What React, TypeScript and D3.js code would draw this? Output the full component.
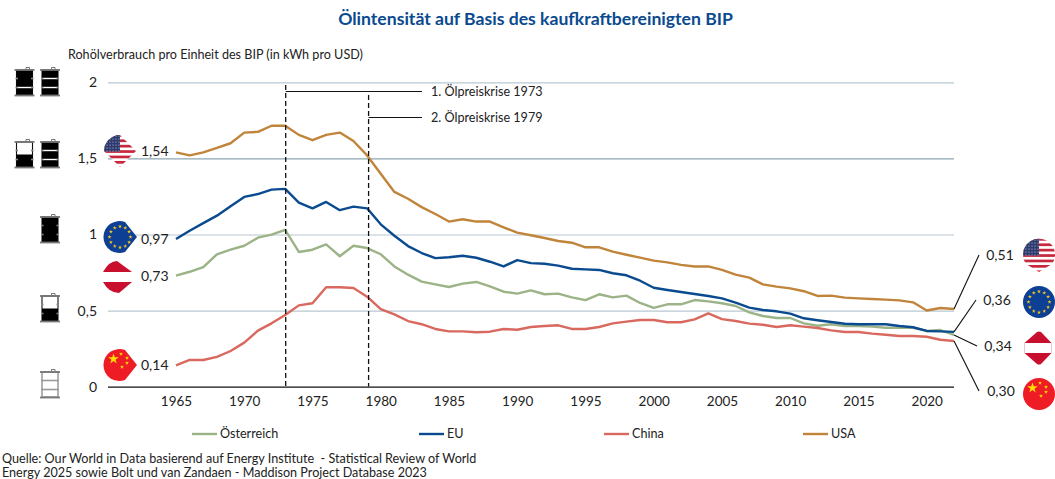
import * as d3 from "d3";
import React, { useEffect, useRef } from "react";

const startYear = 1965;
const usa = [1.54,1.52,1.54,1.57,1.6,1.67,1.675,1.715,1.715,1.655,1.62,1.655,1.67,1.615,1.52,1.4,1.28,1.235,1.18,1.135,1.085,1.1,1.085,1.085,1.047,1.012,0.995,0.977,0.957,0.946,0.916,0.916,0.887,0.867,0.848,0.828,0.817,0.8,0.79,0.79,0.767,0.736,0.716,0.672,0.657,0.646,0.627,0.596,0.598,0.585,0.58,0.576,0.572,0.567,0.554,0.5,0.517,0.51];
const eu = [0.97,1.025,1.075,1.124,1.185,1.247,1.266,1.295,1.3,1.21,1.172,1.214,1.16,1.183,1.172,1.067,0.992,0.924,0.878,0.845,0.85,0.86,0.847,0.821,0.79,0.832,0.812,0.808,0.795,0.775,0.771,0.767,0.745,0.732,0.696,0.65,0.635,0.622,0.609,0.596,0.58,0.552,0.519,0.504,0.495,0.48,0.449,0.436,0.425,0.413,0.41,0.41,0.41,0.398,0.39,0.366,0.363,0.36];
const austria = [0.73,0.755,0.786,0.87,0.9,0.926,0.979,0.999,1.03,0.885,0.9,0.935,0.857,0.926,0.911,0.87,0.79,0.736,0.69,0.672,0.655,0.677,0.688,0.659,0.624,0.611,0.633,0.607,0.611,0.587,0.569,0.607,0.587,0.598,0.55,0.517,0.541,0.541,0.569,0.56,0.548,0.53,0.488,0.464,0.451,0.451,0.416,0.4,0.41,0.398,0.398,0.394,0.387,0.387,0.387,0.366,0.372,0.34];
const china = [0.14,0.175,0.175,0.195,0.234,0.289,0.368,0.416,0.471,0.534,0.548,0.653,0.653,0.648,0.591,0.51,0.475,0.431,0.41,0.379,0.363,0.363,0.357,0.361,0.379,0.374,0.392,0.398,0.403,0.379,0.379,0.392,0.416,0.427,0.438,0.438,0.423,0.423,0.442,0.482,0.444,0.431,0.414,0.407,0.392,0.403,0.394,0.385,0.37,0.359,0.359,0.348,0.341,0.333,0.333,0.328,0.308,0.3];

const years = usa.map((_, i) => startYear + i);
const xTicks = [1965,1970,1975,1980,1985,1990,1995,2000,2005,2010,2015,2020];
const yTicks = [0,0.5,1,1.5,2];
const crises = [1973, 1979];
const crisisLabels = ["1. Ölpreiskrise 1973", "2. Ölpreiskrise 1979"];
const legendNames = ["Österreich", "EU", "China", "USA"];
const seriesColors = ["#9bb386", "#0a4a8f", "#d9685f", "#c0843a"];
const seriesData = [austria, eu, china, usa];
const sourceLines = [
  "Quelle: Our World in Data basierend auf Energy Institute  - Statistical Review of World",
  "Energy 2025 sowie Bolt und van Zandaen - Maddison Project Database 2023",
];

const fmt = (v: number) => v.toFixed(2).replace(".", ",");
const FONT = "Lato, sans-serif";

const CIRCLE = "M-16,0A16,16 0 1 1 16,0A16,16 0 1 1 -16,0Z";
const TEAR_RIGHT = "M17,0L5,15A16,16 0 1 1 5,-15Z";
const TEAR_DOWN = "M0,17L-13,9A16,16 0 1 1 13,9Z";
const DIAMOND = "M16,0L0,16L-16,0A16,16 0 0 1 0,-16Z";
const CUT_LEFT = "M-15,-5Q-9,-16 -1,-16L14,-5L14,5L1,16Q-9,16 -15,5Z";
const CUT_RIGHT = "M-13.5,-5L-1,-16Q1,-17 3,-16L13.5,-5L13.5,5L3,16Q1,17 -1,16L-13.5,5Z";

let clipId = 0;

function flag(svg: any, kind: string, shape: string, cx: number, cy: number) {
  const id = "flag" + clipId++;
  svg.append("clipPath").attr("id", id).append("path").attr("d", shape);
  const g = svg.append("g").attr("transform", `translate(${cx},${cy})`).append("g").attr("clip-path", `url(#${id})`);
  if (kind === "usa") {
    g.append("rect").attr("x", -18).attr("y", -18).attr("width", 36).attr("height", 36).attr("fill", "#fff");
    d3.range(7).forEach(i => {
      g.append("rect").attr("x", -18).attr("y", -17 + i * 5.4).attr("width", 36).attr("height", 2.7).attr("fill", "#c8283e");
    });
    g.append("rect").attr("x", -18).attr("y", -18).attr("width", 18).attr("height", 18.5).attr("fill", "#2c3a6e");
    d3.range(6).forEach(r => d3.range(6).forEach(c => {
      g.append("circle").attr("cx", -16 + c * 3).attr("cy", -15 + r * 3).attr("r", 0.6).attr("fill", "#cfd3e2");
    }));
  }
  if (kind === "eu") {
    g.append("rect").attr("x", -18).attr("y", -18).attr("width", 36).attr("height", 36).attr("fill", "#0d3f94");
    const star = d3.symbol().type(d3.symbolStar).size(5)();
    d3.range(12).forEach(i => {
      const a = (i / 12) * 2 * Math.PI;
      g.append("path").attr("d", star).attr("fill", "#f4c51c")
        .attr("transform", `translate(${10.5 * Math.sin(a)},${-10.5 * Math.cos(a)})`);
    });
  }
  if (kind === "at") {
    g.append("rect").attr("x", -18).attr("y", -18).attr("width", 36).attr("height", 36).attr("fill", "#c8102e");
    g.append("rect").attr("x", -18).attr("y", -5).attr("width", 36).attr("height", 10).attr("fill", "#fff");
  }
  if (kind === "cn") {
    g.append("rect").attr("x", -18).attr("y", -18).attr("width", 36).attr("height", 36).attr("fill", "#ee1c25");
    g.append("path").attr("d", d3.symbol().type(d3.symbolStar).size(34)()).attr("fill", "#ffde00")
      .attr("transform", "translate(-6.5,-6)");
    [[1,-11],[7,-7],[7,-2],[2,2]].forEach(([x, y]) => {
      g.append("path").attr("d", d3.symbol().type(d3.symbolStar).size(5)()).attr("fill", "#ffde00")
        .attr("transform", `translate(${x},${y})`);
    });
  }
}

// level = filled share of the barrel, hoops = y of the white bands on a full one
function barrel(svg: any, bx: number, by: number, level: number, hoops: number[]) {
  const g = svg.append("g").attr("transform", `translate(${bx},${by})`);
  const w = 17, h = 25;
  g.append("rect").attr("x", 1.5).attr("y", 2).attr("width", w - 1).attr("height", h)
    .attr("fill", "#fff").attr("stroke", level > 0 ? "#111" : "#999").attr("stroke-width", level > 0 ? 1.1 : 1.5);
  if (level > 0) {
    const fh = h * level;
    g.append("rect").attr("x", 1.5).attr("y", 2 + h - fh).attr("width", w - 1).attr("height", fh).attr("fill", "#000");
  }
  hoops.forEach(b => {
    g.append("line").attr("x1", 2).attr("x2", w).attr("y1", b).attr("y2", b)
      .attr("stroke", "#fff").attr("stroke-width", 1.4);
  });
  [10.5, 19.5].forEach(b => {
    if (level === 0) {
      g.append("line").attr("x1", 0.5).attr("x2", w + 1.5).attr("y1", b).attr("y2", b).attr("stroke", "#999").attr("stroke-width", 1.6);
      return;
    }
    g.append("line").attr("x1", 0.5).attr("x2", 3).attr("y1", b).attr("y2", b).attr("stroke", "#888").attr("stroke-width", 1.6);
    g.append("line").attr("x1", w - 1).attr("x2", w + 1.5).attr("y1", b).attr("y2", b).attr("stroke", "#888").attr("stroke-width", 1.6);
  });
  [2, 27.5].forEach(b => {
    g.append("line").attr("x1", -0.5).attr("x2", w + 2.5).attr("y1", b).attr("y2", b).attr("stroke", "#777").attr("stroke-width", 1.8);
  });
  g.append("path").attr("d", "M11,1v-1.5h3.5v1.5").attr("fill", "none").attr("stroke", "#777").attr("stroke-width", 1);
}

function App() {
  const ref = useRef<SVGSVGElement>(null);

  useEffect(() => {
    const svg = d3.select(ref.current);
    svg.selectAll("*").remove();
    clipId = 0;

    const x = d3.scaleLinear().domain([1965, 2022]).range([176, 954]);
    const y = d3.scaleLinear().domain([0, 2]).range([386.6, 82.4]);
    const left = 108;
    const right = 954;

    svg.append("text").attr("x", 535.5).attr("y", 25).attr("text-anchor", "middle")
      .attr("font-size", 17.6).attr("font-weight", 700).attr("fill", "#0a4a8f")
      .text("Ölintensität auf Basis des kaufkraftbereinigten BIP");

    svg.append("text").attr("x", 68).attr("y", 59).attr("font-size", 12.6).attr("fill", "#222")
      .text("Rohölverbrauch pro Einheit des BIP (in kWh pro USD)");

    // gridlines
    const yAxis = svg.append("g").attr("transform", `translate(${left},0)`)
      .call(d3.axisLeft(y).tickValues(yTicks).tickSize(left - right).tickPadding(11)
        .tickFormat((d: any) => String(d).replace(".", ",")));
    yAxis.select(".domain").remove();
    yAxis.selectAll("line").attr("stroke", (d: any) => (d === 0 ? "#111" : d === 1.5 ? "#8ea6b4" : "#b8c8d2")).attr("stroke-width", (d: any) => (d === 0 ? 1.4 : 1.2));
    yAxis.selectAll("text").attr("font-size", 14).attr("font-family", FONT).attr("fill", "#222");

    const xAxis = svg.append("g").attr("transform", `translate(0,${y(0)})`)
      .call(d3.axisBottom(x).tickValues(xTicks).tickSize(0).tickPadding(10).tickFormat(d3.format("d") as any));
    xAxis.select(".domain").remove();
    xAxis.selectAll("text").attr("font-size", 13.5).attr("font-family", FONT).attr("fill", "#222");

    // barrels
    barrel(svg, 15, 68, 1, [19.5]);
    barrel(svg, 40.5, 68, 1, [10.5, 19.5]);
    barrel(svg, 15, 140, 0.5, []);
    barrel(svg, 40.5, 140, 1, [10.5, 19.5]);
    barrel(svg, 40.5, 215, 1, []);
    barrel(svg, 40.5, 294, 0.5, []);
    barrel(svg, 40.5, 370, 0, []);

    // series
    const line = d3.line<number>().x((_, i) => x(years[i])).y(d => y(d));
    seriesData.forEach((s, i) => {
      svg.append("path").datum(s).attr("d", line).attr("fill", "none")
        .attr("stroke", seriesColors[i]).attr("stroke-width", 2.4).attr("stroke-linejoin", "round");
    });

    // oil crises
    crises.forEach((c, i) => {
      const cx = x(c) + (i === 0 ? 0.5 : 1.5);
      const top = i === 0 ? 85 : 95;
      const ly = i === 0 ? 91.5 : 117.5;
      svg.append("line").attr("x1", cx).attr("x2", cx).attr("y1", top).attr("y2", y(0))
        .attr("stroke", "#111").attr("stroke-width", 1.3).attr("stroke-dasharray", "5 3");
      svg.append("line").attr("x1", cx).attr("x2", 422).attr("y1", ly).attr("y2", ly).attr("stroke", "#111").attr("stroke-width", 1.2);
      svg.append("text").attr("x", 431).attr("y", ly + 4).attr("font-size", 12.6).attr("fill", "#222").text(crisisLabels[i]);
    });

    // start labels + flags
    const leftFlags = [
      { kind: "usa", shape: DIAMOND, fx: 120, fy: 151, ly: 151, v: usa[0] },
      { kind: "eu", shape: TEAR_RIGHT, fx: 120, fy: 237, ly: 239, v: eu[0] },
      { kind: "at", shape: CUT_LEFT, fx: 118, fy: 277, ly: 276, v: austria[0] },
      { kind: "cn", shape: TEAR_RIGHT, fx: 120, fy: 365, ly: 365, v: china[0] },
    ];
    leftFlags.forEach(f => {
      flag(svg, f.kind, f.shape, f.fx, f.fy);
      svg.append("text").attr("x", 141).attr("y", f.ly + 5).attr("font-size", 14).attr("fill", "#222").text(fmt(f.v));
    });

    // end labels + flags + connectors
    const rightFlags = [
      { kind: "usa", shape: TEAR_DOWN, fx: 1039, fy: 255, tx: 1000, ty: 255, v: usa, lx: 979, ly: 255 },
      { kind: "eu", shape: CIRCLE, fx: 1039, fy: 302, tx: 997, ty: 300, v: eu, lx: 976, ly: 300 },
      { kind: "at", shape: CUT_RIGHT, fx: 1038, fy: 348, tx: 998, ty: 346, v: austria, lx: 977, ly: 346 },
      { kind: "cn", shape: CIRCLE, fx: 1039, fy: 394, tx: 1001, ty: 391, v: china, lx: 979, ly: 391 },
    ];
    rightFlags.forEach(f => {
      const last = f.v[f.v.length - 1];
      svg.append("line").attr("x1", x(2022)).attr("x2", f.lx).attr("y1", y(last)).attr("y2", f.ly).attr("stroke", "#111").attr("stroke-width", 1.1);
      svg.append("text").attr("x", f.tx).attr("y", f.ty + 5).attr("text-anchor", "middle").attr("font-size", 14).attr("fill", "#222").text(fmt(last));
      flag(svg, f.kind, f.shape, f.fx, f.fy);
    });

    // legend
    const legendX = [192, 419, 604, 803];
    legendNames.forEach((name, i) => {
      svg.append("line").attr("x1", legendX[i]).attr("x2", legendX[i] + 25).attr("y1", 434).attr("y2", 434)
        .attr("stroke", seriesColors[i]).attr("stroke-width", 2.4);
      svg.append("text").attr("x", legendX[i] + 28).attr("y", 438).attr("font-size", 12.6).attr("fill", "#222").text(name);
    });

    sourceLines.forEach((t, i) => {
      svg.append("text").attr("x", 2).attr("y", 462.5 + i * 14.5).attr("font-size", 12.6).attr("fill", "#222")
        .style("white-space", "pre").text(t);
    });
  }, []);

  return (
    <svg ref={ref} width={1055} height={479}
      style={{ position: "absolute", left: 0, top: 0, fontFamily: FONT, background: "#fff" }} />
  );
}

export default App;
